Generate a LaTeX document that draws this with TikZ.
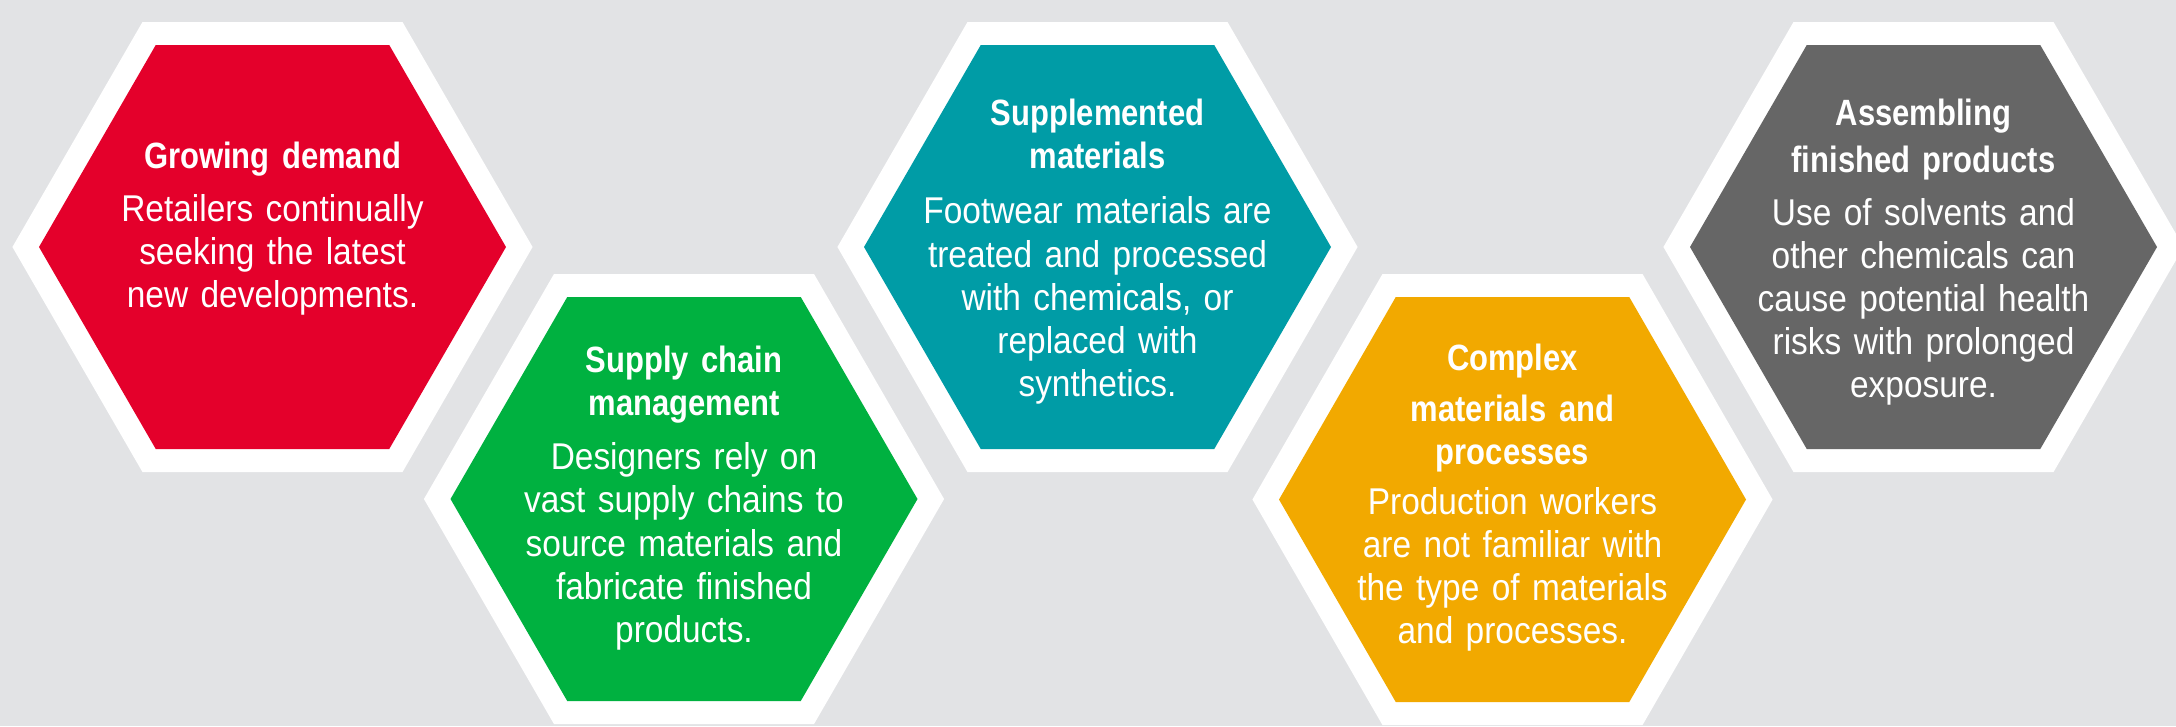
\documentclass[tikz,border=0pt]{standalone}
\usepackage{fontspec}
\setmainfont{Liberation Sans}[FakeStretch=0.897,BoldFeatures={FakeStretch=0.847}]
\usepackage{tikz}
\usetikzlibrary{positioning}

\definecolor{bggray}{HTML}{E2E3E5}
\definecolor{hexred}{HTML}{E4002B}
\definecolor{hexgreen}{HTML}{00B140}
\definecolor{hexteal}{HTML}{009CA6}
\definecolor{hexorange}{HTML}{F2A900}
\definecolor{hexgray}{HTML}{666666}

\newcommand\hd[1]{{\bfseries\fontsize{10.4}{12.24}\selectfont #1}}

\begin{document}
\begin{tikzpicture}[x=0.01cm, y=-0.01cm,
    hexborder/.style={draw=white, line width=0.46cm, line join=miter},
    hextext/.style={text=white, align=center, text width=4.4cm, inner sep=0pt,
        anchor=north, font=\fontsize{10.6}{12.24}\selectfont}]
    \useasboundingbox (0,0) rectangle (2176,726);
    \fill[bggray] (0,0) rectangle (2176,726);
    % centre x / centre y / half width / half height / colour / name / text offset / text
    \foreach \cx/\cy/\rw/\hh/\col/\nm/\off/\txt in {
        272.5/247/233.5/202/hexred/grow/106/{\hd{Growing demand}\\[3pt]Retailers continually\\seeking the latest\\new developments.},
        684/499/233.5/202/hexgreen/supply/154/{\hd{Supply chain}\\\hd{management}\\[3.3pt]Designers rely on\\vast supply chains to\\source materials and\\fabricate finished\\products.},
        1097.5/247/233.5/202/hexteal/suppl/149/{\hd{Supplemented}\\\hd{materials}\\[3.6pt]Footwear materials are\\treated and processed\\with chemicals, or\\replaced with\\synthetics.},
        1512.5/499.5/233.5/202.5/hexorange/complex/156.5/{\hd{Complex}\\[2.3pt]\hd{materials and}\\\hd{processes}\\[2pt]Production workers\\are not familiar with\\the type of materials\\and processes.},
        1923.5/247/233.5/202/hexgray/assemble/149/{\hd{Assembling}\\[1.2pt]\hd{finished products}\\[2.8pt]Use of solvents and\\other chemicals can\\cause potential health\\risks with prolonged\\exposure.}}
    {
        \draw[hexborder] (\cx-\rw,\cy) -- (\cx-\rw/2,\cy-\hh) -- (\cx+\rw/2,\cy-\hh)
            -- (\cx+\rw,\cy) -- (\cx+\rw/2,\cy+\hh) -- (\cx-\rw/2,\cy+\hh) -- cycle;
        \fill[\col] (\cx-\rw,\cy) -- (\cx-\rw/2,\cy-\hh) -- (\cx+\rw/2,\cy-\hh)
            -- (\cx+\rw,\cy) -- (\cx+\rw/2,\cy+\hh) -- (\cx-\rw/2,\cy+\hh) -- cycle;
        \node[hextext] (\nm) at (\cx,\cy-\off) {\txt};
    }
\end{tikzpicture}
\end{document}
